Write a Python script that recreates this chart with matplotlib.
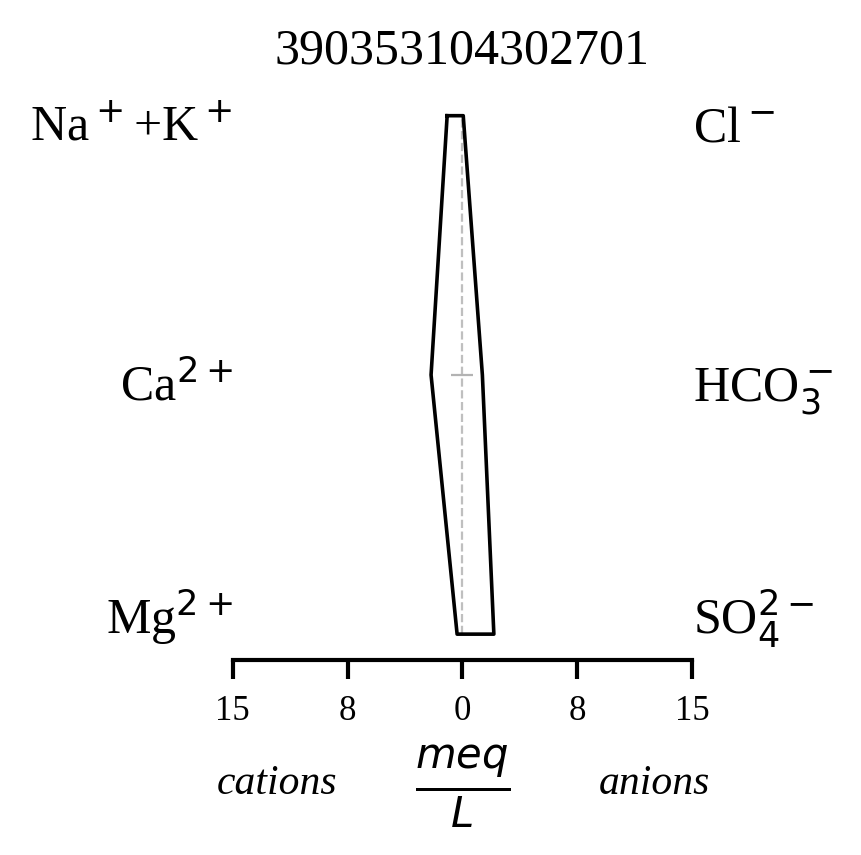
import matplotlib
matplotlib.use("Agg")
import matplotlib.pyplot as plt

plt.rcParams["font.family"] = ["Liberation Serif", "DejaVu Serif"]

# Stiff diagram values (meq/L)
site = "390353104302701"
cation_labels = ["Na$^+$+K$^+$", "Ca$^{2+}$", "Mg$^{2+}$"]
anion_labels = ["Cl$^-$", "HCO$_3^-$", "SO$_4^{2-}$"]
cations = [1.0, 2.05, 0.35]   # Na+K, Ca, Mg
anions = [0.05, 1.3, 2.05]    # Cl, HCO3, SO4
levels = [2, 1, 0]
ticks = [-15, -7.5, 0, 7.5, 15]
tick_labels = ["15", "8", "0", "8", "15"]

fig = plt.figure(figsize=(4.31, 4.275), dpi=200)
ax = fig.add_axes([0.27, 0.228, 0.533, 0.667])

xs = [-c for c in cations] + anions[::-1] + [-cations[0]]
ys = levels + levels[::-1] + [levels[0]]
ax.plot(xs, ys, color="black", lw=1.3)

ax.plot([0, 0], [levels[-1], levels[0]], color="0.75", ls="--", lw=0.8, zorder=0)
ax.plot([0], [1], marker="_", color="0.7", ms=8, mew=0.8, zorder=0)

ax.set_xlim(-15, 15)
ax.set_ylim(-0.1, 2.1)
ax.set_xticks(ticks)
ax.set_xticklabels(tick_labels, fontsize=12.5)
ax.set_yticks([])
for s in ["top", "left", "right"]:
    ax.spines[s].set_visible(False)
ax.spines["bottom"].set_linewidth(1.5)
ax.tick_params(axis="x", width=1.5, length=7, pad=5.5)

# label baselines sit a little below the upper two levels
for i, y in enumerate(levels):
    yb = y - 0.1 if y > 0 else y
    ax.text(-15, yb, cation_labels[i], ha="right", va="baseline", fontsize=18)
    ax.text(15.05, yb, anion_labels[i], ha="left", va="baseline", fontsize=18)

ax.set_title(site, fontsize=18, pad=9.5)

fig.text(0.321, 0.083, "cations", ha="center", va="center", fontsize=15, style="italic")
fig.text(0.759, 0.083, "anions", ha="center", va="center", fontsize=15, style="italic")
fig.text(0.537, 0.08, r"$\frac{meq}{L}$", ha="center", va="center", fontsize=21.5)

fig.savefig("out.png", dpi=200)
